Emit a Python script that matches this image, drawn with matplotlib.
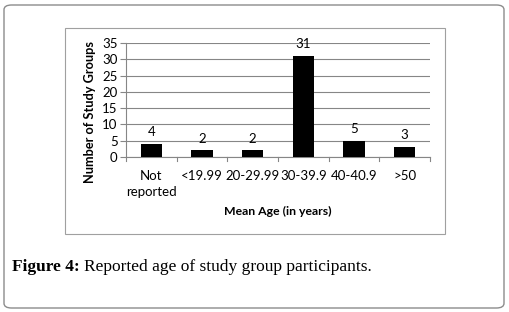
import matplotlib.pyplot as plt
from matplotlib.patches import FancyBboxPatch, Rectangle

# Datos del gráfico
categorias = ["Not\nreported", "<19.99", "20-29.99", "30-39.9", "40-40.9", ">50"]
grupos = [4, 2, 2, 31, 5, 3]
ticks_y = [0, 5, 10, 15, 20, 25, 30, 35]

plt.rcParams['font.family'] = ['Lato', 'DejaVu Sans']

fig = plt.figure(figsize=(5.09, 3.12), dpi=100)

# Marco exterior redondeado
fig.patches.append(FancyBboxPatch((4 / 509, 4 / 312), 500 / 509, 303 / 312,
                                  boxstyle="round,pad=0,rounding_size=0.015",
                                  transform=fig.transFigure, fill=False,
                                  edgecolor="#8c8c8c", linewidth=1.0))
# Marco interior del gráfico
fig.patches.append(Rectangle((65 / 509, 1 - 234 / 312), 380 / 509, 206 / 312,
                             transform=fig.transFigure, fill=False,
                             edgecolor="#a0a0a0", linewidth=0.8))

ax = fig.add_axes([126 / 509, 1 - 157 / 312, 304 / 509, 114 / 312])
x = range(len(categorias))
ax.bar(x, grupos, width=0.42, color="black", zorder=3)

for xi, v in zip(x, grupos):
    ax.text(xi, v + 1.8, str(v), ha="center", va="bottom", fontsize=9.5)

ax.set_xlim(-0.5, len(categorias) - 0.5)
ax.set_ylim(0, 35)
ax.set_yticks(ticks_y)
ax.tick_params(axis="y", labelsize=9.5, length=4, color="#868686", pad=2)
ax.yaxis.grid(True, color="#868686", linewidth=0.8, zorder=0)

ax.set_xticks(list(x))
ax.set_xticklabels(categorias, fontsize=9.5, linespacing=1.4, va="top")
ax.tick_params(axis="x", length=0, pad=9)
# marcas entre categorías
for b in range(len(categorias) + 1):
    ax.plot([b - 0.5, b - 0.5], [0, -1.3], color="#868686", linewidth=0.8,
            clip_on=False, zorder=2)

for s in ["top", "right"]:
    ax.spines[s].set_visible(False)
ax.spines["left"].set_color("#868686")
ax.spines["bottom"].set_color("#868686")

ax.set_ylabel("Number of Study Groups", fontsize=9.2, fontweight="bold",
              va="center")
ax.yaxis.set_label_coords(-0.12, 0.395)
ax.set_xlabel("Mean Age (in years)", fontsize=8.8, fontweight="bold", labelpad=6)

t1 = fig.text(12 / 509, 1 - 267 / 312, "Figure 4:", fontsize=12.5, fontweight="bold",
              family=["Liberation Serif"], va="center")
fig.canvas.draw()
ext = t1.get_window_extent()
x2 = (ext.x1 + 4) / fig.bbox.width
fig.text(x2, 1 - 267 / 312, "Reported age of study group participants.",
         fontsize=12.5, family=["Liberation Serif"], va="center")

fig.savefig("out.png", dpi=100)
